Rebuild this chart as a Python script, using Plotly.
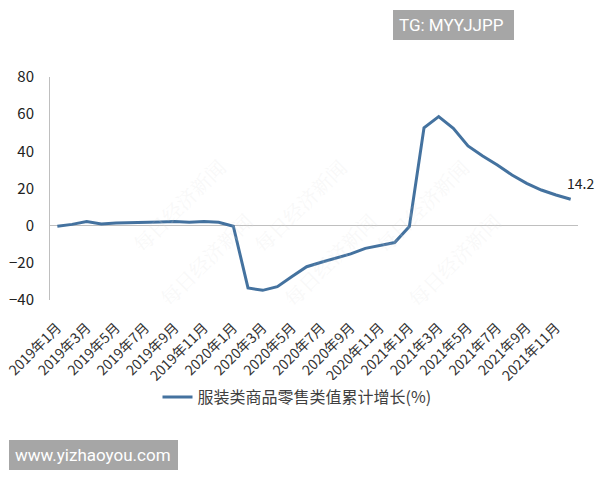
import plotly.graph_objects as go

months = [f"{y}年{m}月" for y in (2019, 2020, 2021) for m in range(1, 13)]
values = [-0.3, 0.7, 2.2, 0.9, 1.5, 1.8, 1.8, 2.0, 2.2, 1.8, 2.2, 1.8,
          -0.3, -33.5, -34.8, -32.8, -27.4, -22.1, -19.7, -17.6, -15.2, -12.2, -10.6, -9.1,
          -0.5, 52.7, 58.7, 52.4, 42.9, 37.5, 32.7, 27.3, 22.8, 19.2, 16.5, 14.2]
series_name = "服装类商品零售类值累计增长(%)"
tick_idx = list(range(0, 36, 2))
tick_text = [months[i] for i in tick_idx]

FONT = "Noto Sans CJK SC, Noto Sans, sans-serif"

fig = go.Figure()
fig.add_trace(go.Scatter(
    x=list(range(len(values))), y=values, mode="lines", name=series_name,
    line=dict(color="#44729f", width=3), showlegend=True,
))

fig.add_annotation(x=35, y=values[-1], text=f"{values[-1]}", showarrow=False,
                   xshift=10, yshift=16, font=dict(size=14, color="#222222", family=FONT))

def px(x):
    return (x - 50) / 528

def py(y):
    return (300 - y) / 223

# faint watermarks
for (wx, wy) in [(123, 150), (300, 150), (478, 150), (150, 315), (330, 315), (510, 315)]:
    fig.add_annotation(xref="paper", yref="paper", x=px(wx), y=py(wy),
                       text="每日经济新闻", showarrow=False, textangle=-45,
                       font=dict(size=20, color="rgba(220,220,220,0.2)", family="Noto Serif CJK SC, serif"))

# grey label boxes
fig.add_shape(type="rect", xref="paper", yref="paper",
              x0=px(393), x1=px(514), y0=py(40), y1=py(10),
              fillcolor="#a6a6a6", line=dict(width=0), layer="above")
fig.add_annotation(xref="paper", yref="paper", x=px(397), y=py(25),
                   xanchor="left", yanchor="middle", text="TG: MYYJJPP", showarrow=False,
                   font=dict(size=17, color="white", family="Roboto, sans-serif"))
fig.add_shape(type="rect", xref="paper", yref="paper",
              x0=px(9), x1=px(178), y0=py(470), y1=py(440),
              fillcolor="#a6a6a6", line=dict(width=0), layer="above")
fig.add_annotation(xref="paper", yref="paper", x=px(13), y=py(455),
                   xanchor="left", yanchor="middle", text="www.yizhaoyou.com", showarrow=False,
                   font=dict(size=17, color="white", family="Roboto, sans-serif"))

fig.update_layout(
    width=600, height=480,
    margin=dict(l=50, r=22, t=77, b=180, autoexpand=False),
    paper_bgcolor="white", plot_bgcolor="white",
    font=dict(family=FONT, color="#333333"),
    legend=dict(orientation="h", x=px(297), xanchor="center", y=py(397), yanchor="middle",
                font=dict(size=16, color="#404040", family=FONT)),
    xaxis=dict(range=[-0.5, 35.5], tickmode="array", tickvals=tick_idx, ticktext=tick_text,
               tickangle=-45, showgrid=False, zeroline=False, showline=False, automargin=False,
               ticks="", tickfont=dict(size=14, color="#333333"), ticklabeloverflow="allow",
               ticklabelstandoff=16),
    yaxis=dict(range=[-40, 80], dtick=20, showgrid=False, zeroline=True, automargin=False,
               zerolinecolor="#bfbfbf", zerolinewidth=1, showline=True,
               linecolor="#bfbfbf", linewidth=1, ticks="",
               tickfont=dict(size=15, color="#222222"), ticklabelstandoff=12),
)

fig.write_html("out.html", config={"displayModeBar": False},
               post_script="document.body.style.margin='0';document.body.style.overflow='hidden';")
